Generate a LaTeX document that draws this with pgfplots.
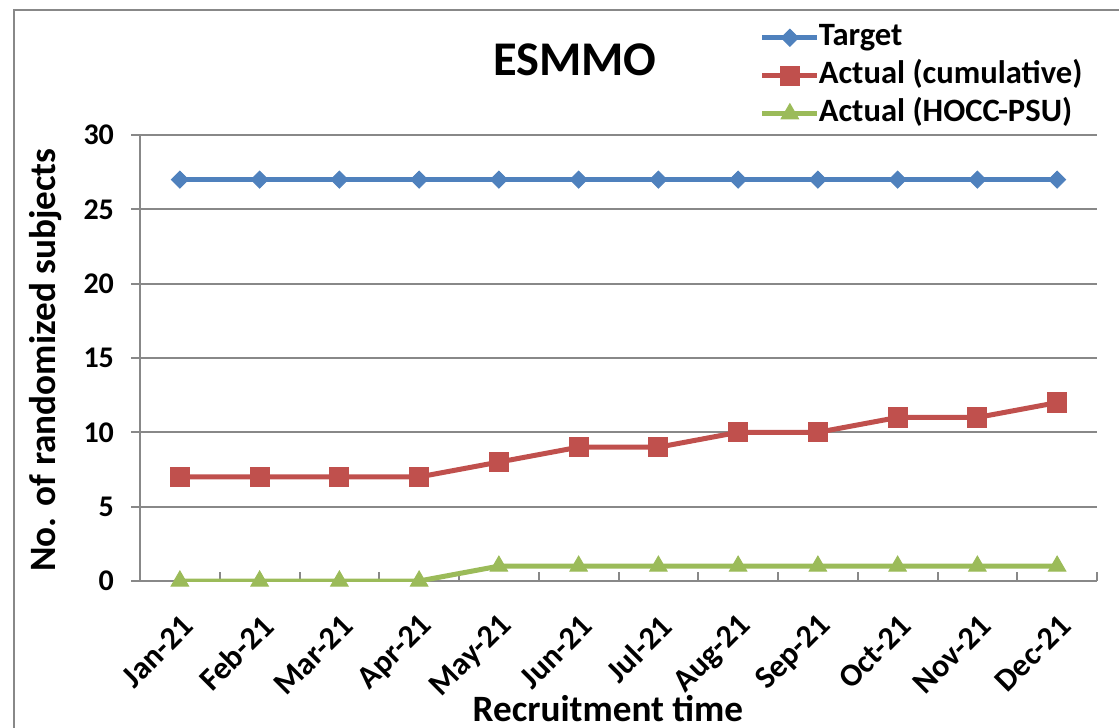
\documentclass[border=0pt]{standalone}
\usepackage{fontspec}
\setmainfont{Carlito}
\usepackage{pgfplots}
\pgfplotsset{compat=1.18}
\definecolor{tblue}{HTML}{4F81BD}
\definecolor{tred}{HTML}{C0504D}
\definecolor{tgreen}{HTML}{9BBB59}
\definecolor{gridgray}{HTML}{888888}

\begin{document}
\begin{tikzpicture}
\useasboundingbox (0,0) rectangle (559.5pt,364pt);
% chart area frame
\draw[gridgray, line width=1pt] (7pt,-5pt) -- (7pt,359pt) -- (570pt,359pt);
\begin{axis}[
  at={(70pt,73.5pt)}, anchor=south west,
  scale only axis, width=478.5pt, height=223pt,
  xmin=-0.5, xmax=11.5, ymin=0, ymax=30,
  axis x line*=bottom, axis y line*=left,
  axis line style={-, gridgray, line width=1pt},
  xtick={0,...,11},
  xticklabels={Jan-21,Feb-21,Mar-21,Apr-21,May-21,Jun-21,Jul-21,Aug-21,Sep-21,Oct-21,Nov-21,Dec-21},
  minor xtick={-0.5,0.5,...,11.5},
  major x tick style={draw=none},
  minor x tick style={gridgray, line width=1pt},
  xtick align=inside,
  minor tick length=4.5pt,
  ytick={0,5,...,30},
  ytick align=outside,
  major tick length=4.5pt,
  y tick style={gridgray, line width=1pt},
  ymajorgrids, grid style={gridgray, line width=1pt},
  /pgf/number format/assume math mode=true,
  yticklabel style={font=\bfseries\fontsize{15}{15}\selectfont, xshift=-5pt},
  xticklabel style={font=\bfseries\fontsize{16}{16}\selectfont, rotate=45, anchor=east, inner sep=1pt, yshift=-17.1pt, xshift=-10.1pt},
  xlabel={Recruitment time},
  ylabel={No. of randomized subjects},
  label style={font=\bfseries\fontsize{18.6}{18.6}\selectfont},
  xlabel style={at={(axis description cs:0.489,-0.285)}, anchor=center},
  ylabel style={at={(axis description cs:-0.099,0.4955)}, anchor=center, rotate=0},
  title={ESMMO},
  title style={font=\bfseries\fontsize{24.2}{24.2}\selectfont, at={(axis description cs:0.4545,1.141)}, anchor=center},
  legend style={at={(axis description cs:0.641,1.266)}, anchor=north west, draw=none, fill=none,
    font=\bfseries\fontsize{16.3}{16.3}\selectfont, row sep=2pt,
    nodes={inner sep=0.5pt, text height=12pt, text depth=4pt},
    /tikz/every odd column/.append style={column sep=-1pt}},
  legend cell align=left,
  legend image code/.code={\draw[mark repeat=2, mark phase=2] plot coordinates {(0pt,0pt) (13.75pt,0pt) (27.5pt,0pt)};},
  every axis plot/.append style={line width=2.5pt},
]
\addplot[tblue, mark=square*, mark size=3pt, mark options={rotate=45, line width=0.5pt}]
  coordinates {(0,27) (1,27) (2,27) (3,27) (4,27) (5,27) (6,27) (7,27) (8,27) (9,27) (10,27) (11,27)};
\addlegendentry{Target}
\addplot[tred, mark=square*, mark size=4.8pt, mark options={line width=0.5pt}]
  coordinates {(0,7) (1,7) (2,7) (3,7) (4,8) (5,9) (6,9) (7,10) (8,10) (9,11) (10,11) (11,12)};
\addlegendentry{Actual (cumulative)}
\addplot[tgreen, mark=triangle*, mark size=5pt, mark options={line width=0.5pt}]
  coordinates {(0,0) (1,0) (2,0) (3,0) (4,1) (5,1) (6,1) (7,1) (8,1) (9,1) (10,1) (11,1)};
\addlegendentry{Actual (HOCC-PSU)}
\end{axis}
\end{tikzpicture}
\end{document}
